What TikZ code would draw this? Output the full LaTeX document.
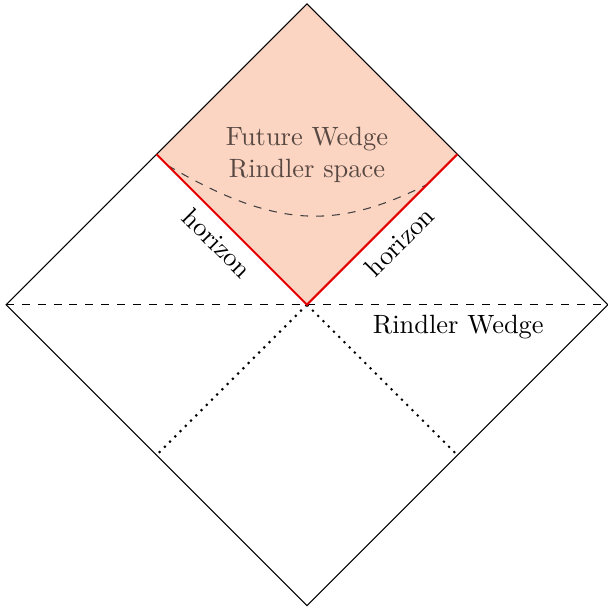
\documentclass[tikz,border=0pt]{standalone}
\begin{document}
\begin{tikzpicture}[
  edge/.style={draw=black, line width=0.4pt},
  horizonline/.style={draw=red!90!black, line width=0.8pt},
  wedgefill/.style={fill=wedgecol},
  lbl/.style={inner sep=1pt, font=\normalsize}
]
\definecolor{wedgecol}{RGB}{251,212,194}
\definecolor{wedgetext}{RGB}{88,72,66}
\useasboundingbox (-4.08,-4.11) rectangle (4.0,4.05);
\coordinate (C) at (0,0);
\coordinate (L) at (-4,0);
\coordinate (R) at (4,0);
\coordinate (T) at (0,4);
\coordinate (B) at (0,-4);
\coordinate (UL) at (-2,2);
\coordinate (UR) at (2,2);
\coordinate (DL) at (-2,-2);
\coordinate (DR) at (2,-2);
\coordinate (hl) at (-1.85,1.85);
\coordinate (hr) at (1.6,1.6);
% future wedge fill
\fill[wedgefill] (C) -- (UL) -- (T) -- (UR) -- cycle;
% diamond
\draw[edge] (L) -- (T) -- (R) -- (B) -- cycle;
% horizontal dashed line
\draw[edge, dashed] (L) -- (R);
% dotted lines
\draw[edge, line width=0.8pt, dash pattern=on 0.8pt off 2pt] (C) -- (DL);
\draw[edge, line width=0.8pt, dash pattern=on 0.8pt off 2pt] (C) -- (DR);
% curve
\draw[edge, draw=black!75, dashed] (hl) .. controls (-0.4,1.0) and (0.4,1.0) .. (hr);
% horizons
\draw[horizonline] (UL) -- (C) -- (UR);
% labels
\node[lbl, text=wedgetext, align=center] (fw) at (0,1.99) {Future Wedge\\Rindler space};
\node[lbl, rotate=-45] (h1) at (-1.19,0.82) {horizon};
\node[lbl, rotate=45] (h2) at (1.23,0.84) {horizon};
\node[lbl] (rw) at (2.01,-0.3) {Rindler Wedge};
\end{tikzpicture}
\end{document}
